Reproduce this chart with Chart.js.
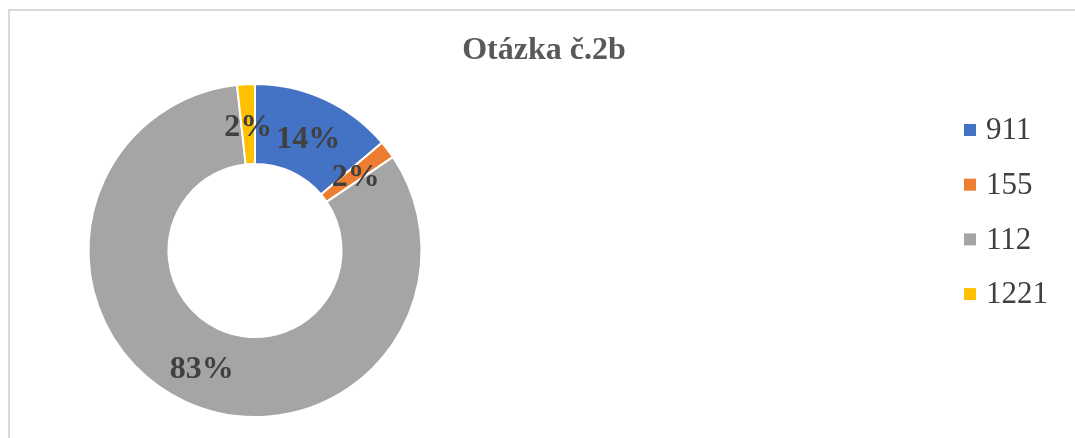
<!DOCTYPE html>
<html lang="cs">
<head>
<meta charset="utf-8">
<title>Otázka č.2b</title>
<script src="https://cdn.jsdelivr.net/npm/chart.js"></script>
<style>
  html, body { margin: 0; padding: 0; background: #fff; }
  #wrap { position: relative; width: 1075px; height: 438px; overflow: hidden; }
  #frame { position: absolute; left: 8px; top: 9px; width: 1200px; height: 600px; border: 2px solid #d9d9d9; box-sizing: border-box; }
  canvas { position: absolute; left: 0; top: 0; }
</style>
</head>
<body>
<div id="wrap">
  <div id="frame"></div>
  <canvas id="chart" width="1075" height="438"></canvas>
</div>

<script>
    var titleText = "Otázka č.2b";
    var labels = ["911", "155", "112", "1221"];
    var counts = [8, 1, 48, 1];
    var colors = ["#4472c4", "#ed7d31", "#a5a5a5", "#ffc000"];

    // percentage labels inside the ring, legend and title drawn onto the canvas
    var extras = {
        id: "extras",
        afterDatasetsDraw: function(chart) {
            var ctx = chart.ctx;
            var meta = chart.getDatasetMeta(0);
            var data = chart.data.datasets[0].data;
            var total = data.reduce(function(a, b) { return a + b; }, 0);
            ctx.save();
            ctx.fillStyle = "#404040";
            ctx.font = "bold 32px 'Liberation Serif'";
            ctx.textAlign = "center";
            ctx.textBaseline = "middle";
            meta.data.forEach(function(arc, i) {
                var p = arc.tooltipPosition();
                var pct = Math.round(data[i] / total * 100) + "%";
                ctx.fillText(pct, p.x, p.y + 4);
            });

            // title
            ctx.fillStyle = "#595959";
            ctx.font = "bold 32px 'Liberation Serif'";
            ctx.fillText(titleText, 544, 51);

            // legend
            ctx.textAlign = "left";
            ctx.font = "31px 'Liberation Serif'";
            chart.data.labels.forEach(function(lab, i) {
                var y = 130 + i * 54.7;
                ctx.fillStyle = colors[i];
                ctx.fillRect(964, y - 6, 12, 12);
                ctx.fillStyle = "#404040";
                ctx.fillText(lab, 986, y + 1);
            });
            ctx.restore();
        }
    };

    var ctx = document.getElementById("chart").getContext("2d");
    var myChart = new Chart(ctx, {
        type: "doughnut",
        data: {
            labels: labels,
            datasets: [
                {
                    data: counts,
                    backgroundColor: colors,
                    borderColor: "#ffffff",
                    borderWidth: 2
                }
            ]
        },
        options: {
            responsive: false,
            animation: false,
            cutout: "52%",
            layout: {
                padding: { left: 87, top: 83, right: 652, bottom: 20 }
            },
            plugins: {
                legend: { display: false },
                tooltip: { enabled: false },
                title: { display: false }
            }
        },
        plugins: [extras]
    });
</script>
</body>
</html>
